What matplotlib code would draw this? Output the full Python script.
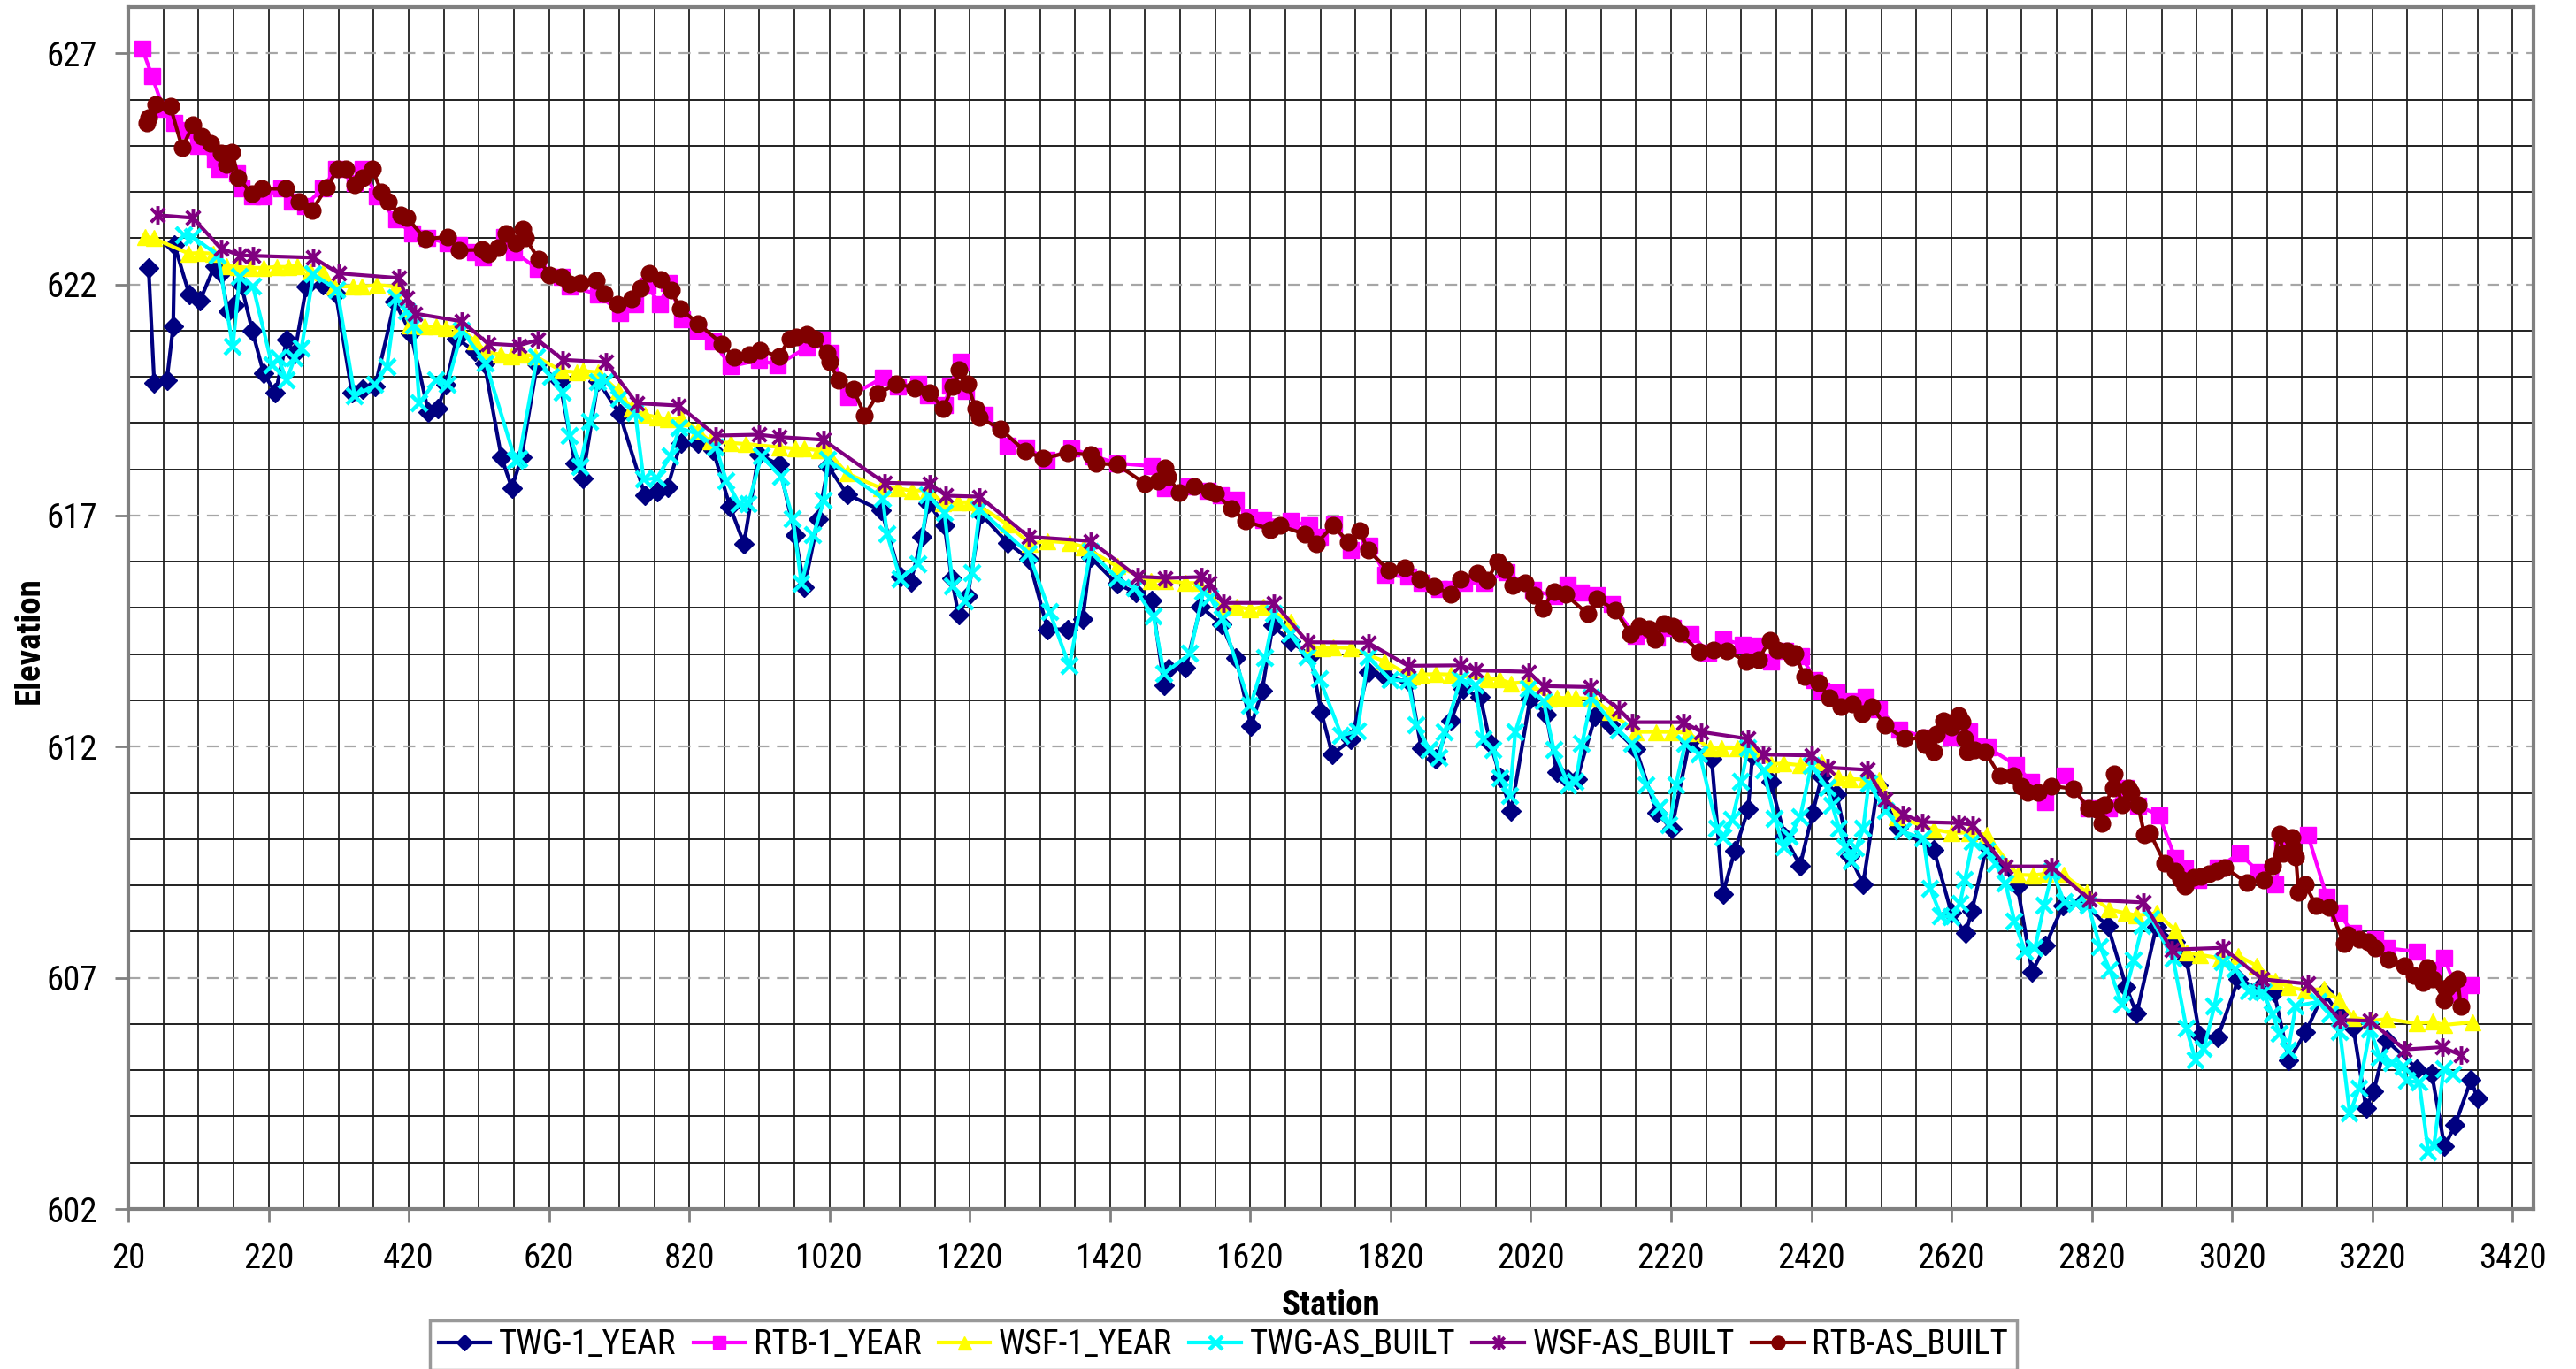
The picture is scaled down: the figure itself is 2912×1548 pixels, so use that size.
import matplotlib
matplotlib.use("Agg")
import matplotlib.pyplot as plt
from matplotlib.path import Path
from matplotlib.ticker import FixedLocator, MultipleLocator
from matplotlib import font_manager
import numpy as np

_avail = {f.name for f in font_manager.fontManager.ttflist}
_narrow = [f for f in ['Liberation Sans Narrow', 'Arial Narrow', 'Roboto Condensed', 'Open Sans Condensed'] if f in _avail]
plt.rcParams['font.family'] = _narrow[:1] + ['Liberation Sans', 'DejaVu Sans']
NARROW = bool(_narrow)

# ---------------- data ----------------
twg_1yr_x = [49, 57, 75, 84, 86, 107, 122, 143, 152, 162, 171, 181, 197, 213, 230, 246, 257, 274, 297, 316,
             339, 354, 372, 400, 423, 448, 461, 473, 488, 515, 528, 552, 567, 581, 603, 635, 657, 668, 690, 721,
             757, 774, 789, 808, 833, 854, 878, 898, 919, 948, 971, 984, 1004, 1018, 1045, 1094, 1121, 1136, 1152, 1161,
             1184, 1194, 1204, 1217, 1236, 1274, 1304, 1331, 1360, 1381, 1392, 1430, 1457, 1480, 1497, 1504, 1528, 1549, 1579, 1600,
             1621, 1637, 1652, 1677, 1706, 1721, 1737, 1764, 1788, 1813, 1847, 1864, 1885, 1906, 1923, 1948, 1962, 1977, 1992, 2019,
             2042, 2057, 2072, 2086, 2112, 2133, 2170, 2200, 2221, 2246, 2278, 2294, 2311, 2330, 2336, 2362, 2382, 2404, 2422, 2435,
             2456, 2475, 2494, 2515, 2544, 2595, 2620, 2640, 2649, 2670, 2714, 2735, 2754, 2779, 2807, 2843, 2869, 2884, 2912, 2939,
             2955, 2974, 3000, 3029, 3058, 3080, 3101, 3125, 3151, 3172, 3193, 3211, 3222, 3240, 3284, 3305, 3323, 3338, 3361, 3370]
twg_1yr_y = [622.36, 619.86, 619.93, 621.09, 622.85, 621.78, 621.64, 622.40, 622.24, 621.42, 621.55, 622.00, 620.99, 620.08, 619.65, 620.80, 620.50, 621.95, 622.00, 621.80,
             619.65, 619.74, 619.79, 621.63, 620.94, 619.24, 619.31, 619.83, 620.83, 620.55, 620.29, 618.27, 617.60, 618.27, 620.27, 619.91, 618.13, 617.81, 619.91, 619.19,
             617.43, 617.51, 617.62, 618.57, 618.57, 618.41, 617.20, 616.39, 618.32, 618.10, 616.57, 615.45, 616.92, 618.07, 617.46, 617.11, 615.68, 615.57, 616.54, 617.27,
             616.78, 615.65, 614.85, 615.25, 617.03, 616.41, 616.06, 614.54, 614.54, 614.76, 616.10, 615.52, 615.33, 615.16, 613.32, 613.69, 613.70, 615.03, 614.65, 613.91,
             612.44, 613.22, 614.62, 614.28, 613.97, 612.76, 611.84, 612.15, 613.62, 613.51, 613.40, 611.96, 611.73, 612.56, 613.24, 613.08, 612.08, 611.33, 610.60, 613.04,
             612.70, 611.46, 611.30, 611.30, 612.66, 612.48, 611.94, 610.57, 610.22, 612.10, 611.73, 608.82, 609.75, 610.64, 611.81, 611.25, 610.06, 609.43, 610.57, 611.36,
             610.98, 609.64, 609.03, 611.16, 610.24, 609.76, 608.40, 607.96, 608.44, 609.84, 608.99, 607.13, 607.70, 608.56, 608.63, 608.12, 606.81, 606.22, 608.10, 607.77,
             607.41, 605.75, 605.72, 606.97, 606.76, 606.69, 605.22, 605.82, 606.68, 606.22, 605.93, 604.19, 604.54, 605.65, 605.03, 604.92, 603.35, 603.81, 604.80, 604.39]

rtb_1yr_x = [40, 54, 70, 85, 106, 120, 143, 150, 175, 181, 196, 213, 238, 253, 272, 297, 316, 343, 354, 375,
             402, 425, 446, 475, 492, 515, 526, 556, 570, 604, 638, 650, 690, 722, 743, 760, 778, 791, 810, 833,
             854, 879, 919, 946, 988, 1009, 1021, 1047, 1096, 1117, 1146, 1161, 1184, 1192, 1207, 1215, 1241, 1274, 1301, 1329,
             1365, 1396, 1430, 1480, 1499, 1532, 1559, 1578, 1599, 1618, 1639, 1677, 1704, 1719, 1740, 1763, 1790, 1813, 1845, 1864,
             1889, 1906, 1925, 1954, 1985, 2023, 2054, 2072, 2092, 2114, 2135, 2170, 2200, 2223, 2248, 2273, 2294, 2322, 2340, 2362,
             2383, 2406, 2425, 2435, 2456, 2477, 2498, 2517, 2546, 2586, 2620, 2645, 2656, 2672, 2712, 2733, 2754, 2781, 2815, 2844,
             2869, 2886, 2916, 2939, 2953, 2972, 3000, 3031, 3058, 3082, 3092, 3128, 3155, 3172, 3193, 3224, 3241, 3283, 3306, 3322,
             3344, 3361]
rtb_1yr_y = [627.10, 626.50, 625.80, 625.50, 625.35, 625.00, 624.70, 624.50, 624.40, 624.07, 623.90, 623.90, 624.07, 623.80, 623.70, 624.07, 624.50, 624.20, 624.50, 623.90,
             623.40, 623.10, 623.00, 622.90, 622.85, 622.70, 622.59, 623.03, 622.71, 622.33, 622.17, 621.95, 621.79, 621.38, 621.57, 621.98, 621.57, 622.04, 621.25, 620.99,
             620.77, 620.23, 620.36, 620.26, 620.64, 620.81, 620.52, 619.57, 619.98, 619.79, 619.85, 619.60, 619.39, 619.81, 620.32, 619.69, 619.18, 618.52, 618.48, 618.20,
             618.45, 618.29, 618.13, 618.07, 617.59, 617.63, 617.53, 617.44, 617.35, 616.96, 616.90, 616.89, 616.78, 616.54, 616.81, 616.25, 616.35, 615.72, 615.67, 615.54,
             615.42, 615.42, 615.54, 615.54, 615.78, 615.39, 615.25, 615.50, 615.33, 615.28, 615.08, 614.39, 614.36, 614.57, 614.44, 614.04, 614.32, 614.21, 614.18, 613.85,
             614.08, 613.96, 613.45, 613.21, 613.18, 612.99, 613.07, 612.81, 612.36, 612.20, 612.20, 612.33, 612.01, 611.98, 611.60, 611.25, 610.80, 611.37, 610.67, 610.67,
             611.10, 610.72, 610.52, 609.59, 609.36, 609.11, 609.39, 609.69, 609.29, 609.03, 609.87, 610.10, 608.76, 608.40, 607.97, 607.83, 607.64, 607.57, 607.16, 607.43,
             606.65, 606.84]

wsf_1yr_x = [44, 56, 106, 122, 141, 160, 177, 194, 213, 232, 248, 261, 280, 297, 314, 341, 353, 375, 402, 421,
             442, 459, 473, 492, 515, 530, 551, 566, 583, 600, 638, 659, 669, 690, 719, 738, 757, 774, 789, 808,
             833, 850, 879, 900, 948, 971, 984, 1005, 1016, 1045, 1094, 1118, 1138, 1161, 1182, 1203, 1220, 1234, 1274, 1306,
             1331, 1362, 1383, 1430, 1478, 1499, 1528, 1546, 1580, 1601, 1620, 1639, 1677, 1706, 1723, 1738, 1763, 1811, 1851, 1864,
             1885, 1906, 1958, 1975, 1992, 2017, 2046, 2057, 2072, 2084, 2109, 2133, 2170, 2198, 2221, 2244, 2275, 2292, 2315, 2334,
             2362, 2380, 2404, 2435, 2458, 2475, 2498, 2517, 2542, 2595, 2620, 2645, 2670, 2714, 2736, 2754, 2780, 2813, 2844, 2869,
             2884, 2913, 2939, 2955, 2974, 3004, 3029, 3055, 3082, 3101, 3124, 3151, 3172, 3193, 3218, 3241, 3284, 3306, 3323, 3363]
wsf_1yr_y = [623.03, 623.00, 622.67, 622.68, 622.67, 622.40, 622.38, 622.36, 622.36, 622.38, 622.38, 622.40, 622.28, 622.27, 621.95, 621.96, 621.95, 621.99, 621.95, 621.12,
             621.09, 621.09, 621.05, 621.09, 620.76, 620.55, 620.48, 620.45, 620.48, 620.45, 620.13, 620.10, 620.13, 620.10, 619.69, 619.31, 619.18, 619.13, 619.08, 619.11,
             618.83, 618.60, 618.57, 618.55, 618.48, 618.45, 618.45, 618.41, 618.42, 617.91, 617.59, 617.59, 617.53, 617.56, 617.27, 617.29, 617.29, 617.21, 616.80, 616.39,
             616.45, 616.41, 616.32, 615.90, 615.59, 615.59, 615.54, 615.54, 615.00, 615.03, 614.97, 615.03, 614.71, 614.17, 614.13, 614.15, 614.13, 613.85, 613.51, 613.56,
             613.57, 613.56, 613.46, 613.46, 613.37, 613.40, 613.04, 613.06, 613.05, 613.05, 613.04, 612.75, 612.32, 612.32, 612.32, 612.30, 611.97, 611.97, 611.97, 611.94,
             611.62, 611.64, 611.60, 611.66, 611.33, 611.30, 611.29, 611.28, 610.48, 610.21, 610.14, 610.14, 610.10, 609.23, 609.22, 609.25, 609.23, 608.85, 608.48, 608.40,
             608.35, 608.40, 608.03, 607.54, 607.50, 607.42, 607.48, 607.26, 606.94, 606.80, 606.73, 606.76, 606.52, 606.14, 606.07, 606.11, 606.01, 606.05, 605.98, 606.04]

twg_ab_x = [99, 112, 148, 169, 179, 198, 225, 234, 246, 257, 267, 284, 318, 343, 372, 389, 402, 417, 427, 435,
            459, 475, 496, 530, 572, 577, 603, 623, 640, 650, 664, 678, 690, 701, 720, 743, 755, 774, 793, 806,
            833, 858, 873, 892, 904, 923, 951, 968, 980, 997, 1012, 1018, 1096, 1102, 1121, 1146, 1161, 1184, 1196, 1213,
            1223, 1234, 1304, 1334, 1362, 1392, 1430, 1455, 1482, 1497, 1534, 1553, 1563, 1580, 1620, 1641, 1654, 1677, 1701, 1719,
            1750, 1773, 1788, 1820, 1845, 1857, 1876, 1889, 1897, 1920, 1941, 1952, 1967, 1977, 1990, 1998, 2017, 2038, 2053, 2074,
            2084, 2093, 2107, 2145, 2164, 2185, 2204, 2218, 2227, 2240, 2261, 2286, 2294, 2307, 2320, 2330, 2352, 2368, 2381, 2389,
            2404, 2420, 2443, 2450, 2460, 2469, 2477, 2484, 2494, 2502, 2526, 2551, 2580, 2590, 2605, 2620, 2632, 2639, 2650, 2670,
            2683, 2697, 2710, 2725, 2739, 2752, 2764, 2781, 2798, 2815, 2832, 2846, 2863, 2880, 2892, 2905, 2936, 2955, 2968, 2980,
            2995, 3007, 3025, 3044, 3055, 3065, 3078, 3088, 3100, 3111, 3143, 3160, 3174, 3188, 3201, 3217, 3231, 3248, 3264, 3269,
            3287, 3300, 3308, 3322, 3335]
twg_ab_y = [623.06, 623.03, 622.63, 620.65, 622.17, 621.95, 620.26, 620.40, 619.93, 620.40, 620.62, 622.22, 621.88, 619.58, 619.83, 620.22, 621.70, 621.41, 621.12, 619.43,
            619.93, 619.83, 621.00, 620.29, 618.19, 618.22, 620.42, 620.00, 619.66, 618.73, 618.06, 619.02, 619.88, 619.91, 619.53, 619.21, 617.78, 617.81, 618.29, 618.89,
            618.76, 618.48, 617.75, 617.24, 617.24, 618.29, 617.84, 616.92, 615.52, 616.57, 617.33, 618.20, 617.37, 616.60, 615.63, 615.95, 617.43, 617.05, 615.46, 615.14,
            615.75, 617.13, 616.18, 614.92, 613.74, 616.22, 615.65, 615.43, 614.82, 613.58, 614.01, 615.35, 615.22, 614.76, 612.88, 613.91, 614.87, 614.44, 613.93, 613.46,
            612.24, 612.34, 613.94, 613.44, 613.43, 612.47, 611.92, 611.76, 612.31, 613.46, 613.33, 612.15, 611.92, 611.31, 610.93, 612.32, 613.25, 612.99, 611.92, 611.17,
            611.24, 612.06, 613.05, 612.35, 612.06, 611.17, 610.69, 610.30, 611.17, 612.06, 611.83, 610.22, 610.03, 610.41, 611.24, 611.97, 611.49, 610.44, 609.83, 610.06,
            610.47, 611.59, 611.11, 610.73, 610.22, 609.83, 609.52, 609.81, 610.22, 611.21, 610.61, 610.16, 610.01, 608.92, 608.34, 608.31, 608.60, 609.11, 609.94, 609.75,
            609.46, 609.04, 608.21, 607.57, 607.64, 608.56, 609.30, 608.63, 608.60, 608.56, 607.67, 607.16, 606.41, 607.38, 608.12, 608.28, 607.42, 605.91, 605.21, 605.47,
            606.39, 607.33, 607.19, 606.71, 606.68, 606.68, 606.20, 605.79, 605.42, 606.39, 606.48, 606.20, 605.82, 604.06, 604.60, 605.88, 605.28, 605.15, 605.08, 604.78,
            604.73, 603.23, 603.37, 605.03, 604.91]

wsf_ab_x = [61, 112, 152, 179, 198, 284, 320, 406, 417, 429, 496, 533, 577, 604, 640, 701, 745, 805, 858, 919,
            948, 1011, 1098, 1163, 1186, 1234, 1304, 1392, 1459, 1499, 1550, 1561, 1582, 1654, 1702, 1788, 1845, 1920, 1941, 2017,
            2038, 2105, 2145, 2164, 2238, 2263, 2330, 2351, 2420, 2443, 2500, 2525, 2551, 2578, 2630, 2650, 2697, 2762, 2817, 2894,
            2934, 3007, 3063, 3128, 3174, 3217, 3266, 3320, 3346]
wsf_ab_y = [623.50, 623.44, 622.78, 622.63, 622.62, 622.58, 622.24, 622.14, 621.71, 621.37, 621.20, 620.72, 620.68, 620.80, 620.37, 620.32, 619.43, 619.38, 618.73, 618.75,
            618.70, 618.64, 617.71, 617.69, 617.43, 617.41, 616.54, 616.45, 615.68, 615.65, 615.67, 615.54, 615.11, 615.11, 614.26, 614.25, 613.75, 613.76, 613.65, 613.62,
            613.31, 613.29, 612.81, 612.53, 612.53, 612.32, 612.17, 611.83, 611.81, 611.55, 611.50, 610.86, 610.54, 610.37, 610.35, 610.31, 609.41, 609.41, 608.69, 608.63,
            607.61, 607.65, 606.97, 606.87, 606.09, 606.07, 605.45, 605.50, 605.33]

rtb_ab_x = [46, 49, 59, 80, 97, 112, 125, 137, 152, 160, 168, 177, 196, 211, 244, 263, 282, 303, 319, 330,
            343, 354, 368, 381, 391, 408, 417, 444, 475, 492, 525, 533, 547, 559, 573, 582, 586, 605, 621, 638,
            650, 664, 687, 699, 717, 738, 750, 763, 780, 794, 807, 833, 867, 884, 906, 921, 948, 963, 973, 987,
            999, 1017, 1020, 1033, 1054, 1070, 1089, 1115, 1142, 1163, 1182, 1196, 1205, 1217, 1228, 1234, 1264, 1299, 1325, 1360,
            1392, 1400, 1430, 1470, 1488, 1499, 1502, 1519, 1540, 1561, 1570, 1593, 1613, 1649, 1662, 1698, 1714, 1738, 1760, 1776,
            1788, 1818, 1840, 1862, 1882, 1906, 1920, 1944, 1958, 1973, 1983, 1994, 2012, 2025, 2037, 2053, 2070, 2101, 2114, 2140,
            2162, 2175, 2189, 2197, 2210, 2223, 2233, 2260, 2280, 2299, 2327, 2345, 2361, 2372, 2385, 2393, 2397, 2410, 2431, 2446,
            2462, 2479, 2492, 2507, 2525, 2553, 2580, 2582, 2595, 2599, 2609, 2620, 2630, 2635, 2639, 2643, 2653, 2668, 2689, 2708,
            2720, 2729, 2744, 2762, 2794, 2815, 2827, 2834, 2838, 2851, 2852, 2863, 2872, 2876, 2886, 2895, 2903, 2924, 2939, 2947,
            2953, 2966, 2976, 2987, 2998, 3010, 3041, 3065, 3078, 3088, 3093, 3105, 3107, 3111, 3115, 3124, 3140, 3159, 3180, 3185,
            3201, 3214, 3224, 3243, 3266, 3280, 3292, 3298, 3306, 3323, 3327, 3334, 3342, 3346]
rtb_ab_y = [625.50, 625.60, 625.90, 625.85, 624.95, 625.45, 625.20, 625.05, 624.85, 624.60, 624.87, 624.30, 623.96, 624.07, 624.07, 623.80, 623.60, 624.10, 624.50, 624.50,
            624.15, 624.30, 624.50, 624.00, 623.80, 623.50, 623.45, 622.98, 623.03, 622.74, 622.75, 622.67, 622.80, 623.10, 622.90, 623.20, 623.01, 622.55, 622.20, 622.16,
            622.01, 622.03, 622.08, 621.80, 621.57, 621.69, 621.92, 622.24, 622.11, 621.87, 621.48, 621.15, 620.71, 620.42, 620.48, 620.58, 620.44, 620.83, 620.87, 620.93,
            620.82, 620.52, 620.32, 619.92, 619.74, 619.17, 619.63, 619.85, 619.76, 619.65, 619.32, 619.79, 620.15, 619.85, 619.32, 619.12, 618.87, 618.39, 618.24, 618.36,
            618.31, 618.13, 618.10, 617.69, 617.75, 618.04, 617.85, 617.50, 617.63, 617.53, 617.48, 617.16, 616.88, 616.70, 616.78, 616.60, 616.39, 616.78, 616.43, 616.67,
            616.25, 615.81, 615.87, 615.62, 615.47, 615.30, 615.62, 615.75, 615.61, 616.01, 615.83, 615.48, 615.54, 615.28, 614.99, 615.36, 615.29, 614.87, 615.20, 614.96,
            614.44, 614.61, 614.55, 614.32, 614.66, 614.61, 614.45, 614.06, 614.10, 614.08, 613.85, 613.89, 614.31, 614.10, 614.08, 613.94, 614.02, 613.51, 613.38, 613.06,
            612.87, 612.92, 612.72, 612.87, 612.46, 612.17, 612.19, 612.04, 611.89, 612.27, 612.56, 612.43, 612.68, 612.54, 612.17, 611.89, 611.92, 611.89, 611.37, 611.37,
            611.15, 611.02, 611.02, 611.15, 611.09, 610.67, 610.64, 610.35, 610.74, 611.10, 611.41, 610.74, 611.10, 611.02, 610.74, 610.10, 610.13, 609.49, 609.30, 609.14,
            608.98, 609.17, 609.20, 609.25, 609.30, 609.38, 609.06, 609.11, 609.43, 610.12, 609.69, 610.03, 609.81, 609.62, 608.85, 609.03, 608.56, 608.53, 607.73, 607.93,
            607.83, 607.77, 607.64, 607.40, 607.27, 607.06, 606.90, 607.22, 606.97, 606.52, 606.78, 606.87, 606.97, 606.39]

series_names = ["TWG-1_YEAR", "RTB-1_YEAR", "WSF-1_YEAR", "TWG-AS_BUILT", "WSF-AS_BUILT", "RTB-AS_BUILT"]
x_ticks = [20, 220, 420, 620, 820, 1020, 1220, 1420, 1620, 1820, 2020, 2220, 2420, 2620, 2820, 3020, 3220, 3420]
y_ticks = [602, 607, 612, 617, 622, 627]

# ---------------- figure ----------------
W, H = 2912, 1548
fig = plt.figure(figsize=(W / 100, H / 100), dpi=100)
ax = fig.add_axes([145 / W, 1 - 1367 / H, (2864 - 145) / W, (1367 - 8) / H])

star = Path([(0, -1), (0, 1), (-0.75, -0.75), (0.75, 0.75), (-0.75, 0.75), (0.75, -0.75)],
            [Path.MOVETO, Path.LINETO, Path.MOVETO, Path.LINETO, Path.MOVETO, Path.LINETO])

styles = [
    dict(color="#000080", marker="D", ms=11.5, lw=3.0),
    dict(color="#FF00FF", marker="s", ms=12.5, lw=3.0),
    dict(color="#FFFF00", marker="^", ms=13.5, lw=3.0),
    dict(color="#00FFFF", marker="x", ms=13.5, mew=3.2, lw=3.0),
    dict(color="#800080", marker=star, ms=15, mew=2.8, lw=3.0),
    dict(color="#800000", marker="o", ms=13.5, lw=3.0),
]
data = [(twg_1yr_x, twg_1yr_y), (rtb_1yr_x, rtb_1yr_y), (wsf_1yr_x, wsf_1yr_y),
        (twg_ab_x, twg_ab_y), (wsf_ab_x, wsf_ab_y), (rtb_ab_x, rtb_ab_y)]
for name, (xs, ys), st in zip(series_names, data, styles):
    ax.plot(xs, ys, label=name, zorder=3, **st)

ax.set_xlim(20, 3450)
ax.set_ylim(602, 628)

ax.xaxis.set_major_locator(FixedLocator(x_ticks))
ax.xaxis.set_minor_locator(MultipleLocator(50, offset=20))
ax.yaxis.set_major_locator(FixedLocator(y_ticks))
ax.yaxis.set_minor_locator(MultipleLocator(1))

ax.grid(which="major", axis="y", color="#A6A6A6", linestyle=(0, (6, 4)), linewidth=1.6, zorder=1)
ax.grid(which="minor", axis="y", color="#202020", linestyle="-", linewidth=1.4, zorder=1)
ax.grid(which="both", axis="x", color="#202020", linestyle="-", linewidth=1.3, zorder=1)
ax.set_axisbelow(True)

tick_fs = 28 if NARROW else 25
ax.tick_params(axis="both", which="major", labelsize=tick_fs, length=11, width=2, color="#808080", direction="out")
ax.tick_params(axis="x", which="major", pad=16)
ax.tick_params(axis="y", which="major", pad=14)
ax.tick_params(axis="both", which="minor", length=0)

for sp in ax.spines.values():
    sp.set_color("#808080")
    sp.set_linewidth(3)

ax.set_xlabel("Station", fontsize=tick_fs, fontweight="bold", labelpad=12)
fig.text(33 / W, 1 - 724 / H, "Elevation", rotation=90, fontsize=tick_fs, fontweight="bold",
         ha="center", va="center")

leg = fig.legend(loc="center", bbox_to_anchor=(1383 / W, 1 - 1521 / H), ncol=6,
                 fontsize=(28 if NARROW else 24),
                 frameon=True, fancybox=False, edgecolor="#808080", handlelength=1.5,
                 columnspacing=0.5, handletextpad=0.25, borderpad=0.25, markerscale=0.8)
leg.get_frame().set_linewidth(2.5)

fig.savefig("out.png", dpi=100)
